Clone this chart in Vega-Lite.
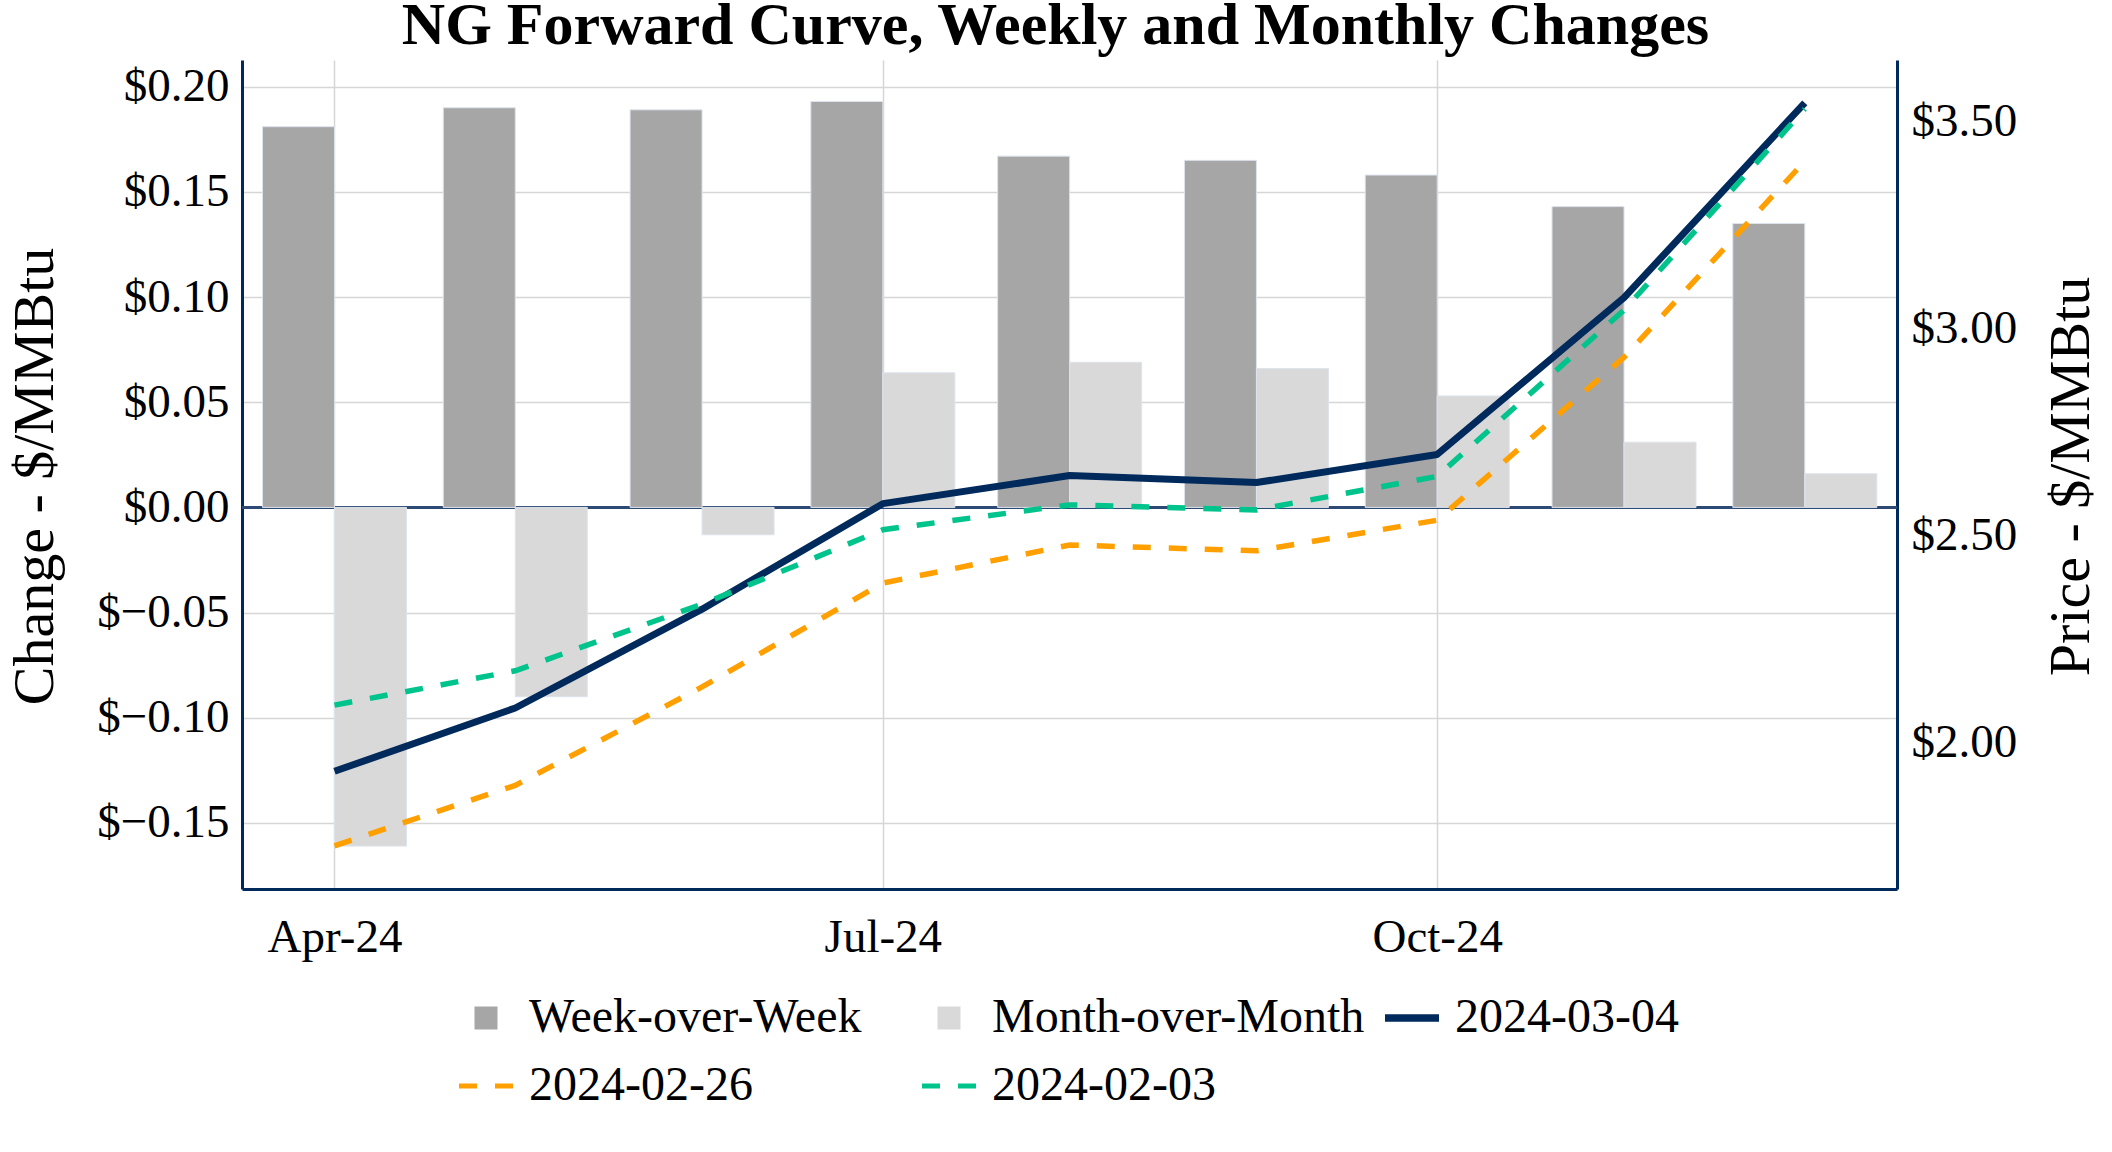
{
  "$schema": "https://vega.github.io/schema/vega-lite/v6.json",
  "width": 1655,
  "height": 829,
  "autosize": {"type": "none"},
  "padding": {"left": 242, "top": 60, "right": 215, "bottom": 263},
  "background": "white",
  "config": {
    "font": "Liberation Serif",
    "view": {"stroke": null},
    "axis": {
      "labelFont": "Liberation Serif",
      "titleFont": "Liberation Serif",
      "labelColor": "#000000",
      "titleColor": "#000000",
      "titleFontWeight": "normal",
      "labelFontSize": 47,
      "titleFontSize": 58,
      "ticks": false,
      "gridColor": "#d6d6d6",
      "gridWidth": 1.5,
      "domainColor": "#002a5c",
      "domainWidth": 3
    }
  },
  "title": {
    "text": "NG Forward Curve, Weekly and Monthly Changes",
    "font": "Liberation Serif",
    "fontSize": 60,
    "fontWeight": "bold",
    "color": "#000000",
    "anchor": "middle",
    "baseline": "alphabetic",
    "offset": 5,
    "dy": 49,
    "dx": -14
  },
  "data": {
    "values": [
      {"month": "2024-04-01T00:00:00", "series": "Week-over-Week", "value": 0.181},
      {"month": "2024-05-01T00:00:00", "series": "Week-over-Week", "value": 0.190},
      {"month": "2024-06-01T00:00:00", "series": "Week-over-Week", "value": 0.189},
      {"month": "2024-07-01T00:00:00", "series": "Week-over-Week", "value": 0.193},
      {"month": "2024-08-01T00:00:00", "series": "Week-over-Week", "value": 0.167},
      {"month": "2024-09-01T00:00:00", "series": "Week-over-Week", "value": 0.165},
      {"month": "2024-10-01T00:00:00", "series": "Week-over-Week", "value": 0.158},
      {"month": "2024-11-01T00:00:00", "series": "Week-over-Week", "value": 0.143},
      {"month": "2024-12-01T00:00:00", "series": "Week-over-Week", "value": 0.135},
      {"month": "2024-04-01T00:00:00", "series": "Month-over-Month", "value": -0.161},
      {"month": "2024-05-01T00:00:00", "series": "Month-over-Month", "value": -0.090},
      {"month": "2024-06-01T00:00:00", "series": "Month-over-Month", "value": -0.013},
      {"month": "2024-07-01T00:00:00", "series": "Month-over-Month", "value": 0.064},
      {"month": "2024-08-01T00:00:00", "series": "Month-over-Month", "value": 0.069},
      {"month": "2024-09-01T00:00:00", "series": "Month-over-Month", "value": 0.066},
      {"month": "2024-10-01T00:00:00", "series": "Month-over-Month", "value": 0.053},
      {"month": "2024-11-01T00:00:00", "series": "Month-over-Month", "value": 0.031},
      {"month": "2024-12-01T00:00:00", "series": "Month-over-Month", "value": 0.016},
      {"month": "2024-04-01T00:00:00", "series": "2024-03-04", "value": 1.930},
      {"month": "2024-05-01T00:00:00", "series": "2024-03-04", "value": 2.083},
      {"month": "2024-06-01T00:00:00", "series": "2024-03-04", "value": 2.322},
      {"month": "2024-07-01T00:00:00", "series": "2024-03-04", "value": 2.577},
      {"month": "2024-08-01T00:00:00", "series": "2024-03-04", "value": 2.645},
      {"month": "2024-09-01T00:00:00", "series": "2024-03-04", "value": 2.628},
      {"month": "2024-10-01T00:00:00", "series": "2024-03-04", "value": 2.696},
      {"month": "2024-11-01T00:00:00", "series": "2024-03-04", "value": 3.075},
      {"month": "2024-12-01T00:00:00", "series": "2024-03-04", "value": 3.546},
      {"month": "2024-04-01T00:00:00", "series": "2024-02-26", "value": 1.750},
      {"month": "2024-05-01T00:00:00", "series": "2024-02-26", "value": 1.896},
      {"month": "2024-06-01T00:00:00", "series": "2024-02-26", "value": 2.134},
      {"month": "2024-07-01T00:00:00", "series": "2024-02-26", "value": 2.385},
      {"month": "2024-08-01T00:00:00", "series": "2024-02-26", "value": 2.477},
      {"month": "2024-09-01T00:00:00", "series": "2024-02-26", "value": 2.463},
      {"month": "2024-10-01T00:00:00", "series": "2024-02-26", "value": 2.537},
      {"month": "2024-11-01T00:00:00", "series": "2024-02-26", "value": 2.931},
      {"month": "2024-12-01T00:00:00", "series": "2024-02-26", "value": 3.405},
      {"month": "2024-04-01T00:00:00", "series": "2024-02-03", "value": 2.090},
      {"month": "2024-05-01T00:00:00", "series": "2024-02-03", "value": 2.173},
      {"month": "2024-06-01T00:00:00", "series": "2024-02-03", "value": 2.334},
      {"month": "2024-07-01T00:00:00", "series": "2024-02-03", "value": 2.514},
      {"month": "2024-08-01T00:00:00", "series": "2024-02-03", "value": 2.574},
      {"month": "2024-09-01T00:00:00", "series": "2024-02-03", "value": 2.562},
      {"month": "2024-10-01T00:00:00", "series": "2024-02-03", "value": 2.643},
      {"month": "2024-11-01T00:00:00", "series": "2024-02-03", "value": 3.045},
      {"month": "2024-12-01T00:00:00", "series": "2024-02-03", "value": 3.531}
    ]
  },
  "encoding": {
    "x": {
      "field": "month",
      "type": "temporal",
      "scale": {
        "domain": [
          {"year": 2024, "month": 3, "date": 16, "hours": 15, "minutes": 36},
          {"year": 2024, "month": 12, "date": 16, "hours": 7, "minutes": 12}
        ],
        "padding": 0
      },
      "axis": {
        "title": null,
        "values": [
          {"year": 2024, "month": 4, "date": 1},
          {"year": 2024, "month": 7, "date": 1},
          {"year": 2024, "month": 10, "date": 1}
        ],
        "format": "%b-%y",
        "labelAngle": 0,
        "labelPadding": 25,
        "grid": true,
        "domainColor": "#002a5c",
        "domainWidth": 3
      }
    },
    "color": {
      "field": "series",
      "type": "nominal",
      "scale": {
        "domain": ["Week-over-Week", "Month-over-Month", "2024-03-04", "2024-02-26", "2024-02-03"],
        "range": ["#a6a6a6", "#d9d9d9", "#002a5c", "#ffa000", "#00c48c"]
      },
      "legend": {
        "title": null,
        "orient": "none",
        "legendX": 220,
        "legendY": 934,
        "direction": "horizontal",
        "columns": 3,
        "gridAlign": "all",
        "columnPadding": 5,
        "rowPadding": 20,
        "padding": 0,
        "labelFont": "Liberation Serif",
        "labelFontSize": 48,
        "labelColor": "#000000",
        "labelLimit": 0,
        "labelOffset": 19,
        "symbolSize": 2916,
        "symbolStrokeWidth": 5,
        "symbolType": "stroke",
        "encode": {
          "symbols": {
            "update": {
              "shape": {"signal": "indexof(['Week-over-Week','Month-over-Month'], datum.value) >= 0 ? 'square' : 'stroke'"},
              "size": {"signal": "indexof(['Week-over-Week','Month-over-Month'], datum.value) >= 0 ? 529 : 2916"},
              "fill": {"scale": "color", "field": "value"},
              "stroke": {"scale": "color", "field": "value"},
              "strokeWidth": {"signal": "indexof(['Week-over-Week','Month-over-Month'], datum.value) >= 0 ? 0 : (datum.value == '2024-03-04' ? 7.5 : 5)"},
              "strokeDash": {"signal": "indexof(['2024-02-26','2024-02-03'], datum.value) >= 0 ? [18,18] : [1,0]"},
              "opacity": {"value": 1}
            }
          }
        }
      }
    }
  },
  "layer": [
    {
      "layer": [
        {
          "mark": {"type": "rule", "color": "#2c4a75", "strokeWidth": 2},
          "encoding": {
            "x": null,
            "color": null,
            "y": {
              "datum": 0,
              "type": "quantitative",
              "scale": {"domain": [-0.1814, 0.2127], "nice": false, "zero": false},
              "axis": {
                "values": [-0.15, -0.1, -0.05, 0, 0.05, 0.1, 0.15, 0.2],
                "labelExpr": "'$' + format(datum.value, '.2f')",
                "labelPadding": 13,
                "grid": true,
                "title": "Change - $/MMBtu",
                "titleAngle": 270,
                "titleX": -190,
                "titleY": 416,
                "titleAlign": "center",
                "titleBaseline": "alphabetic"
              }
            }
          }
        },
        {
          "transform": [{"filter": "datum.series == 'Week-over-Week'"}],
          "mark": {"type": "bar", "width": 72, "xOffset": -36, "stroke": "#dde3ec", "strokeWidth": 1},
          "encoding": {
            "y": {
              "field": "value",
              "type": "quantitative",
              "scale": {"domain": [-0.1814, 0.2127], "nice": false, "zero": false},
              "axis": {
                "values": [-0.15, -0.1, -0.05, 0, 0.05, 0.1, 0.15, 0.2],
                "labelExpr": "'$' + format(datum.value, '.2f')",
                "labelPadding": 13,
                "grid": true,
                "title": "Change - $/MMBtu",
                "titleAngle": 270,
                "titleX": -190,
                "titleY": 416,
                "titleAlign": "center",
                "titleBaseline": "alphabetic"
              }
            }
          }
        },
        {
          "transform": [{"filter": "datum.series == 'Month-over-Month'"}],
          "mark": {"type": "bar", "width": 72, "xOffset": 36, "stroke": "#dde3ec", "strokeWidth": 1},
          "encoding": {
            "y": {
              "field": "value",
              "type": "quantitative",
              "scale": {"domain": [-0.1814, 0.2127], "nice": false, "zero": false},
              "axis": {
                "values": [-0.15, -0.1, -0.05, 0, 0.05, 0.1, 0.15, 0.2],
                "labelExpr": "'$' + format(datum.value, '.2f')",
                "labelPadding": 13,
                "grid": true,
                "title": "Change - $/MMBtu",
                "titleAngle": 270,
                "titleX": -190,
                "titleY": 416,
                "titleAlign": "center",
                "titleBaseline": "alphabetic"
              }
            }
          }
        }
      ]
    },
    {
      "layer": [
        {
          "transform": [{"filter": "datum.series == '2024-03-04'"}],
          "mark": {"type": "line", "strokeWidth": 7, "strokeJoin": "round"},
          "encoding": {
            "y": {
              "field": "value",
              "type": "quantitative",
              "scale": {"domain": [1.6455, 3.6495], "nice": false, "zero": false},
              "axis": {
                "orient": "right",
                "values": [2, 2.5, 3, 3.5],
                "labelExpr": "'$' + format(datum.value, '.2f')",
                "labelPadding": 14,
                "grid": false,
                "title": "Price - $/MMBtu",
                "titleAngle": 270,
                "titleX": 191,
                "titleY": 416,
                "titleAlign": "center",
                "titleBaseline": "alphabetic"
              }
            }
          }
        },
        {
          "transform": [{"filter": "datum.series == '2024-02-26' || datum.series == '2024-02-03'"}],
          "mark": {"type": "line", "strokeWidth": 5.5, "strokeDash": [18, 18]},
          "encoding": {
            "y": {
              "field": "value",
              "type": "quantitative",
              "scale": {"domain": [1.6455, 3.6495], "nice": false, "zero": false},
              "axis": {
                "orient": "right",
                "values": [2, 2.5, 3, 3.5],
                "labelExpr": "'$' + format(datum.value, '.2f')",
                "labelPadding": 14,
                "grid": false,
                "title": "Price - $/MMBtu",
                "titleAngle": 270,
                "titleX": 191,
                "titleY": 416,
                "titleAlign": "center",
                "titleBaseline": "alphabetic"
              }
            }
          }
        }
      ]
    }
  ],
  "resolve": {"scale": {"y": "independent"}, "axis": {"y": "independent"}}
}
